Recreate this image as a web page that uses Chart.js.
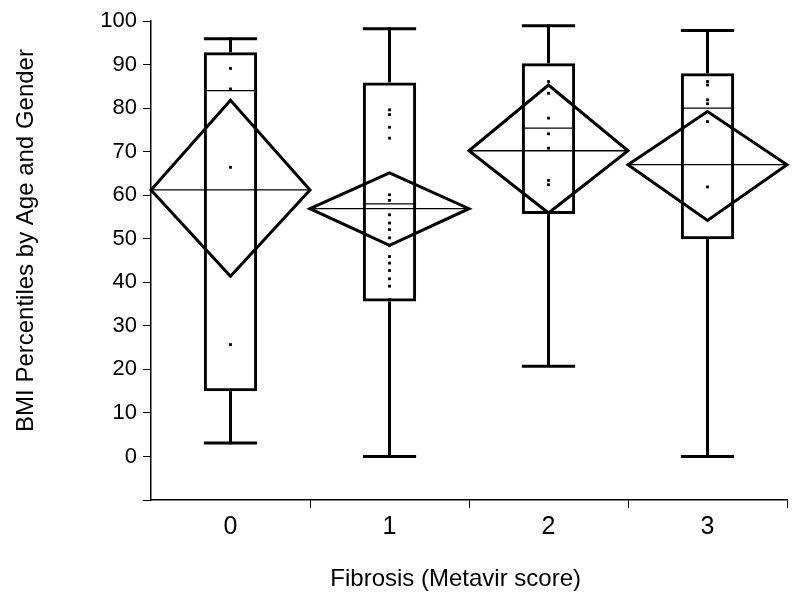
<!DOCTYPE html>
<html>
<head>
<meta charset="utf-8">
<script src="https://cdn.jsdelivr.net/npm/chart.js@4.4.1/dist/chart.umd.min.js"></script>
<style>
  html, body { margin: 0; padding: 0; background: #fff; }
  #wrap { width: 800px; height: 607px; position: relative; }
</style>
</head>
<body>
<div id="wrap"><canvas id="c" width="800" height="607"></canvas></div>
<script>
// ---- data ----
const categories = ['0', '1', '2', '3'];
const whiskerLow  = [3.1, 0.0, 20.7, 0.0];
const quartile1   = [15.0, 35.6, 55.7, 49.9];
const medians     = [84.0, 58.0, 75.4, 80.0];
const quartile3   = [92.8, 85.9, 90.3, 88.0];
const whiskerHigh = [95.9, 98.2, 98.9, 97.8];
const means       = [61.2, 56.9, 70.2, 67.0];
const ciLow       = [41.4, 48.5, 55.9, 54.2];
const ciHigh      = [81.8, 65.1, 85.3, 79.2];

const pointsG0 = [95.9, 93.5, 89.1, 84.4, 66.4, 25.7, 5.5, 3.1];
const pointsG1 = [98.2, 97, 95, 93, 91, 89, 87, 79.6, 78.5, 75.6, 73.1, 60.1, 58.8, 55.5, 53.6, 52.1,
                  50.2, 48.4, 45.9, 44.4, 42.7, 40.8, 39.1, 36.0, 32.2, 22.5, 17.3, 14.2, 11.9, 10.0,
                  8.1, 6.2, 4.3, 2.4, 0.9, 0.0];
const pointsG2 = [98.9, 97, 94, 92, 86.1, 83.4, 77.7, 74.1, 70.8, 63.4, 62.4, 54.4, 43.5, 28.9, 21.0];
const pointsG3 = [97.8, 95, 93, 90.5, 86.1, 85.3, 81.9, 81.0, 76.9, 61.9, 46.7, 24.2, 1.6, 0.0];
const pointGroups = [pointsG0, pointsG1, pointsG2, pointsG3];

const yTickMin = -10, yTickMax = 100, yTickStep = 10;

// ---- build library structures ----
const boxData = quartile1.map((v, i) => [v, quartile3[i]]);
const dotData = [];
pointGroups.forEach((arr, gi) => arr.forEach(v => dotData.push({ x: categories[gi], y: v })));

const FONT = "'Liberation Sans', Arial, sans-serif";

const boxParts = {
  id: 'boxParts',
  afterDatasetsDraw(chart) {
    const { ctx, scales: { x, y } } = chart;
    const bars = chart.getDatasetMeta(0).data;
    const line = (x1, y1, x2, y2) => { ctx.beginPath(); ctx.moveTo(x1, y1); ctx.lineTo(x2, y2); ctx.stroke(); };
    ctx.save();
    ctx.strokeStyle = '#000';
    ctx.lineCap = 'butt';
    categories.forEach((c, i) => {
      const xc = x.getPixelForValue(i);
      const half = bars[i].width / 2;
      const left = x.getPixelForValue(i - 0.5);
      const right = x.getPixelForValue(i + 0.5);
      const yWl = y.getPixelForValue(whiskerLow[i]);
      const yWh = y.getPixelForValue(whiskerHigh[i]);
      const yQ1 = y.getPixelForValue(quartile1[i]);
      const yQ3 = y.getPixelForValue(quartile3[i]);
      const yMed = y.getPixelForValue(medians[i]);
      const yMean = y.getPixelForValue(means[i]);
      const yCl = y.getPixelForValue(ciLow[i]);
      const yCh = y.getPixelForValue(ciHigh[i]);
      // whiskers and caps
      ctx.lineWidth = 3;
      line(xc, yQ3, xc, yWh);
      line(xc, yQ1, xc, yWl);
      line(xc - half, yWh, xc + half, yWh);
      line(xc - half, yWl, xc + half, yWl);
      // means diamond
      ctx.lineJoin = 'miter';
      ctx.beginPath();
      ctx.moveTo(left, yMean);
      ctx.lineTo(xc, yCh);
      ctx.lineTo(right, yMean);
      ctx.lineTo(xc, yCl);
      ctx.closePath();
      ctx.stroke();
      // thin median and mean lines
      ctx.lineWidth = 1.3;
      line(xc - half, yMed, xc + half, yMed);
      line(left, yMean, right, yMean);
    });
    ctx.restore();
  }
};

new Chart(document.getElementById('c'), {
  type: 'bar',
  data: {
    labels: categories,
    datasets: [
      {
        type: 'bar',
        label: 'box',
        data: boxData,
        backgroundColor: 'rgba(0,0,0,0)',
        borderColor: '#000',
        borderWidth: 3,
        borderSkipped: false,
        barPercentage: 0.335,
        categoryPercentage: 1.0,
        order: 1
      },
      {
        type: 'line',
        label: 'points',
        data: dotData,
        showLine: false,
        pointStyle: 'rect',
        pointRadius: 2,
        pointBorderWidth: 0,
        pointBackgroundColor: '#000',
        pointBorderColor: '#000',
        order: 2
      }
    ]
  },
  options: {
    responsive: false,
    animation: false,
    devicePixelRatio: 1,
    layout: { padding: { top: 21, right: 13, left: 0, bottom: 0 } },
    plugins: { legend: { display: false }, tooltip: { enabled: false } },
    scales: {
      x: {
        type: 'category',
        offset: true,
        grid: {
          offset: true,
          drawOnChartArea: false,
          drawTicks: true,
          tickLength: 8,
          color: (ctx) => (ctx.index === 0 || ctx.index === categories.length) ? 'rgba(0,0,0,0)' : '#000'
        },
        border: { display: true, color: '#000', width: 1.5 },
        ticks: { color: '#000', font: { family: FONT, size: 25 }, padding: 4 },
        title: {
          display: true,
          text: 'Fibrosis (Metavir score)\u00a0\u00a0\u00a0\u00a0',
          color: '#000',
          font: { family: FONT, size: 24 },
          padding: { top: 0, bottom: 13 }
        },
        afterFit: (s) => { s.height = 107; }
      },
      y: {
        type: 'linear',
        min: yTickMin,
        max: yTickMax,
        grid: { drawOnChartArea: false, drawTicks: true, tickLength: 8, color: '#000' },
        border: { display: true, color: '#000', width: 1.5 },
        ticks: {
          stepSize: yTickStep,
          color: '#000',
          font: { family: FONT, size: 22 },
          padding: 6,
          callback: (v) => (v < 0 ? '' : v)
        },
        title: {
          display: true,
          text: '\u00a0\u00a0\u00a0\u00a0\u00a0\u00a0BMI Percentiles by Age and Gender',
          color: '#000',
          font: { family: FONT, size: 24 },
          padding: { top: 12, bottom: 0 }
        },
        afterFit: (s) => { s.width = 151; }
      }
    }
  },
  plugins: [boxParts]
});
</script>
</body>
</html>
